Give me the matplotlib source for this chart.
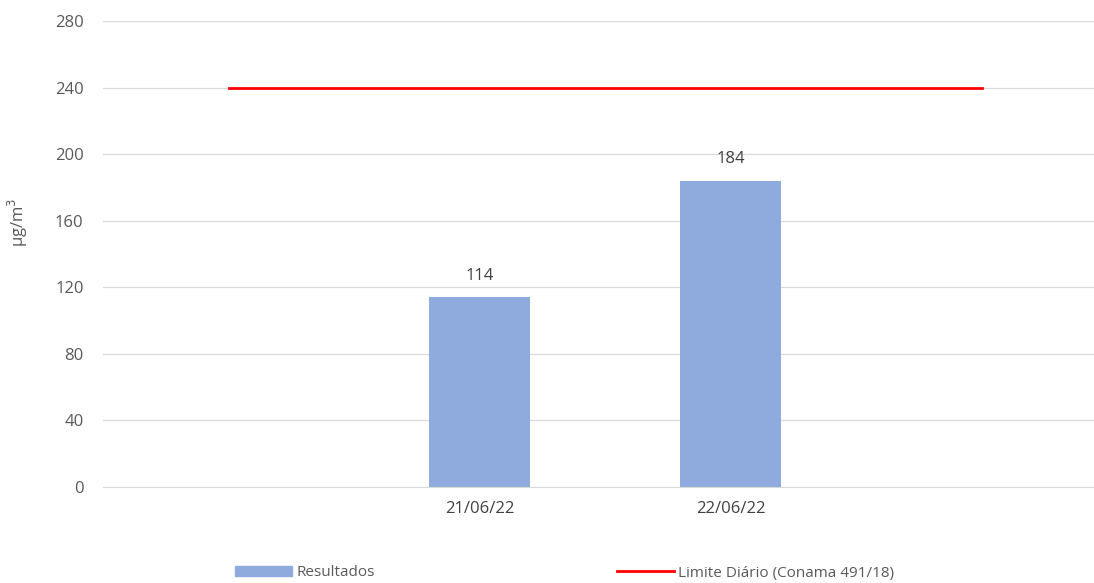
import matplotlib
matplotlib.use("Agg")
import matplotlib.pyplot as plt
from matplotlib.patches import Patch
from matplotlib.lines import Line2D

categories = ["", "21/06/22", "22/06/22", ""]
resultados = [None, 114, 184, None]
limite = [240, 240, 240, 240]
yticks = [0, 40, 80, 120, 160, 200, 240, 280]

plt.rcParams['font.family'] = ['Open Sans', 'DejaVu Sans']

fig = plt.figure(figsize=(10.94, 5.83), dpi=100)
ax = fig.add_axes([103/1094, 1-487/583, 1004/1094, (487-21)/583])

xs = list(range(len(categories)))
bar_x = [x for x, v in zip(xs, resultados) if v is not None]
bar_v = [v for v in resultados if v is not None]
ax.bar(bar_x, bar_v, width=0.4, color="#8faadc", zorder=2)
for x, v in zip(bar_x, bar_v):
    ax.text(x, v + 8, f"{v}", ha="center", va="bottom", fontsize=12, color="#404040")

ax.plot(xs, limite, color="#ff0000", linewidth=2, zorder=3)

ax.set_xlim(-0.5, len(categories) - 0.5)
ax.set_ylim(0, 280)
ax.set_yticks(yticks)
ax.set_yticklabels([str(t) for t in yticks], fontsize=12, color="#595959")
ax.set_xticks(xs)
ax.set_xticklabels(categories, fontsize=12, color="#404040")
ax.tick_params(axis="both", length=0, pad=10)
ax.tick_params(axis="y", pad=14)
ax.grid(axis="y", color="#d9d9d9", linewidth=0.9, zorder=0)
for s in ["top", "right", "left"]:
    ax.spines[s].set_visible(False)
ax.spines["bottom"].set_color("#d9d9d9")
fig.text(18/1094, 1 - 222/583, r"µg/m$^3$", fontsize=12, color="#595959",
         rotation=90, ha="center", va="center")

leg_y = 1 - 573/583
fig.legend(
    handles=[Patch(color="#8faadc")], labels=["Resultados"],
    loc="center left", bbox_to_anchor=(235/1094, leg_y), frameon=False,
    fontsize=11, handlelength=3.75, handleheight=0.6, borderpad=0,
    borderaxespad=0, labelcolor="#595959", handletextpad=0.25,
)
fig.legend(
    handles=[Line2D([0], [0], color="#ff0000", linewidth=2)],
    labels=["Limite Diário (Conama 491/18)"],
    loc="center left", bbox_to_anchor=(617/1094, leg_y), frameon=False,
    fontsize=11, handlelength=3.75, borderpad=0,
    borderaxespad=0, labelcolor="#595959", handletextpad=0.25,
)

fig.savefig("out.png", dpi=100)
